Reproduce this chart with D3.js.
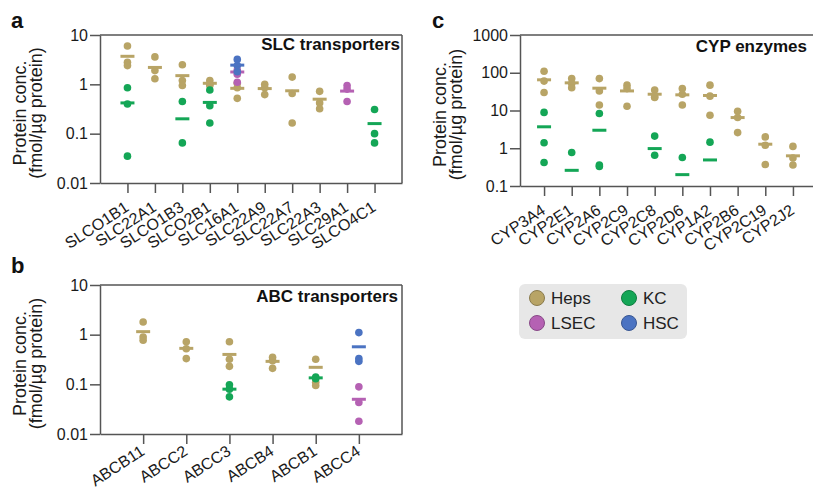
<!DOCTYPE html>
<html><head><meta charset="utf-8">
<script src="https://cdn.jsdelivr.net/npm/d3@7"></script>
<style>
body{margin:0;background:#fff;}
svg{font-family:"Liberation Sans",Arial,Helvetica,sans-serif;}
</style>
</head><body>
<svg id="chart" width="813" height="490"></svg>
<script>
// ---------------- DATA ----------------
const cellTypes = ["Heps", "KC", "LSEC", "HSC"];
const cellColors = ["#b8a466", "#14a656", "#b561b3", "#4b73c2"];

// Panel a: SLC transporters
const slcCategories = ["SLCO1B1","SLC22A1","SLCO1B3","SLCO2B1","SLC16A1","SLC22A9","SLC22A7","SLC22A3","SLC29A1","SLCO4C1"];
const slcHeps     = [[6.0,2.8,2.4],[3.6,1.9,1.3],[2.5,1.2,0.95],[1.2,1.0,0.95],[1.05,0.85,0.52],[1.0,0.85,0.62],[1.4,0.65,0.165],[0.72,0.42,0.32],[],[]];
const slcHepsMean = [3.7,2.2,1.5,1.05,0.83,0.82,0.74,0.5,null,null];
const slcKC       = [[0.85,0.4,0.035],[],[0.45,0.065],[0.77,0.37,0.165],[],[],[],[],[],[0.31,0.1,0.065]];
const slcKCMean   = [0.42,null,0.2,0.43,null,null,null,null,null,0.16];
const slcLSEC     = [[],[],[],[],[1.95,1.6,1.1],[],[],[],[0.95,0.8,0.45],[]];
const slcLSECMean = [null,null,null,null,1.78,null,null,null,0.73,null];
const slcHSC      = [[],[],[],[],[3.2,2.4,1.8],[],[],[],[],[]];
const slcHSCMean  = [null,null,null,null,2.45,null,null,null,null,null];
const slcTicks = [0.01, 0.1, 1, 10];

// Panel b: ABC transporters
const abcCategories = ["ABCB11","ABCC2","ABCC3","ABCB4","ABCB1","ABCC4"];
const abcHeps     = [[1.8,0.9,0.77],[0.72,0.52,0.33],[0.72,0.32,0.23],[0.35,0.3,0.21],[0.32,0.11,0.095],[]];
const abcHepsMean = [1.15,0.53,0.4,0.29,0.22,null];
const abcKC       = [[],[],[0.098,0.08,0.056],[],[0.14,0.13],[]];
const abcKCMean   = [null,null,0.08,null,0.135,null];
const abcLSEC     = [[],[],[],[],[],[0.089,0.043,0.018]];
const abcLSECMean = [null,null,null,null,null,0.05];
const abcHSC      = [[],[],[],[],[],[1.1,0.33,0.29]];
const abcHSCMean  = [null,null,null,null,null,0.57];
const abcTicks = [0.01, 0.1, 1, 10];

// Panel c: CYP enzymes
const cypCategories = ["CYP3A4","CYP2E1","CYP2A6","CYP2C9","CYP2C8","CYP2D6","CYP1A2","CYP2B6","CYP2C19","CYP2J2"];
const cypHeps     = [[110,60,30],[70,52,40],[70,33,14],[47,38,13],[35,23,22],[38,27,14],[47,24,7.5],[9.5,6.5,2.6],[2.0,1.2,0.37],[1.12,0.55,0.36]];
const cypHepsMean = [65,54,39,33,27,26,25,6.5,1.28,0.63];
const cypKC       = [[8.9,1.4,0.42],[0.77],[8.3,0.36,0.33],[],[2.1,0.65],[0.57],[1.45],[],[],[]];
const cypKCMean   = [3.7,0.26,3.0,null,0.98,0.2,0.49,null,null,null];
const cypTicks = [0.1, 1, 10, 100, 1000];

const yLabelLines = ["Protein conc.", "(fmol/\u00b5g protein)"];

// ---------------- DRAWING ----------------
const svg = d3.select("#chart");
const axisColor = "#555";

function drawPanel(o) {
  const g = svg.append("g");
  const x = d3.scalePoint().domain(o.cats).range([o.x0, o.x1]).padding(o.pad);
  const y = d3.scaleLog().domain([o.ticks[0], o.ticks[o.ticks.length - 1]]).range([o.y1, o.y0]);

  // frame top / right
  g.append("line").attr("x1", o.x0).attr("x2", o.x1).attr("y1", o.y0).attr("y2", o.y0)
    .attr("stroke", axisColor).attr("stroke-width", 1.5);
  g.append("line").attr("x1", o.x1).attr("x2", o.x1).attr("y1", o.y0).attr("y2", o.y1)
    .attr("stroke", axisColor).attr("stroke-width", 1.5);

  const ya = g.append("g").attr("transform", `translate(${o.x0},0)`)
    .call(d3.axisLeft(y).tickValues(o.ticks).tickFormat(d => String(d)).tickSize(10).tickSizeOuter(0).tickPadding(2));
  const xa = g.append("g").attr("transform", `translate(0,${o.y1})`)
    .call(d3.axisBottom(x).tickSize(10).tickSizeOuter(0));
  [ya, xa].forEach(a => {
    a.selectAll("path,line").attr("stroke", axisColor).attr("stroke-width", 1.5);
    a.selectAll("text").attr("fill", "#1a1a1a").style("font-size", "16px");
  });
  xa.selectAll("text").attr("y", 0).attr("dy", 0)
    .attr("text-anchor", "end")
    .attr("transform", `translate(2,${o.labOff}) rotate(-33)`);

  // marks
  o.series.forEach(s => {
    const col = cellColors[cellTypes.indexOf(s.type)];
    o.cats.forEach((c, i) => {
      (s.dots[i] || []).forEach(v => {
        g.append("circle").attr("cx", x(c)).attr("cy", y(v)).attr("r", 3.8).attr("fill", col);
      });
      if (s.means[i] != null) {
        g.append("line").attr("x1", x(c) - 7).attr("x2", x(c) + 7)
          .attr("y1", y(s.means[i])).attr("y2", y(s.means[i]))
          .attr("stroke", col).attr("stroke-width", 3);
      }
    });
  });

  // title
  g.append("text").attr("x", o.titleX).attr("y", o.titleY).attr("text-anchor", "end")
    .attr("font-weight", "bold").style("font-size", "17px").attr("fill", "#111").text(o.title);
  // letter
  g.append("text").attr("x", o.letterX).attr("y", o.letterY)
    .attr("font-weight", "bold").style("font-size", "22px").attr("fill", "#111").text(o.letter);
  // y label
  const cy = (o.y0 + o.y1) / 2 + 4;
  yLabelLines.forEach((t, k) => {
    g.append("text").attr("transform", `translate(${o.ylabX + k * 16},${cy}) rotate(-90)`)
      .attr("text-anchor", "middle").style("font-size", "18px").attr("fill", "#1a1a1a").text(t);
  });
}

drawPanel({
  cats: slcCategories, x0: 100, x1: 402, y0: 35, y1: 183, pad: 1, ticks: slcTicks, labOff: 27,
  series: [
    {type: "Heps", dots: slcHeps, means: slcHepsMean},
    {type: "KC", dots: slcKC, means: slcKCMean},
    {type: "LSEC", dots: slcLSEC, means: slcLSECMean},
    {type: "HSC", dots: slcHSC, means: slcHSCMean}
  ],
  title: "SLC transporters", titleX: 400, titleY: 50, letter: "a", letterX: 11, letterY: 28, ylabX: 26
});

drawPanel({
  cats: abcCategories, x0: 100, x1: 402, y0: 285, y1: 434, pad: 1, ticks: abcTicks, labOff: 20,
  series: [
    {type: "Heps", dots: abcHeps, means: abcHepsMean},
    {type: "KC", dots: abcKC, means: abcKCMean},
    {type: "LSEC", dots: abcLSEC, means: abcLSECMean},
    {type: "HSC", dots: abcHSC, means: abcHSCMean}
  ],
  title: "ABC transporters", titleX: 398, titleY: 302, letter: "b", letterX: 11, letterY: 273, ylabX: 26
});

drawPanel({
  cats: cypCategories, x0: 520, x1: 817, y0: 35, y1: 186, pad: 0.87, ticks: cypTicks, labOff: 27,
  series: [
    {type: "Heps", dots: cypHeps, means: cypHepsMean},
    {type: "KC", dots: cypKC, means: cypKCMean}
  ],
  title: "CYP enzymes", titleX: 807, titleY: 52, letter: "c", letterX: 432, letterY: 28, ylabX: 446
});

// legend
const lg = svg.append("g");
lg.append("rect").attr("x", 519).attr("y", 284).attr("width", 168).attr("height", 55)
  .attr("rx", 6).attr("fill", "#e7e7e7");
const legendPos = [[537, 298], [629, 298], [537, 323], [629, 323]];
cellTypes.forEach((t, i) => {
  const [cx, cy] = legendPos[i];
  lg.append("circle").attr("cx", cx).attr("cy", cy).attr("r", 7.5)
    .attr("fill", cellColors[i]).attr("stroke", d3.color(cellColors[i]).darker(0.8)).attr("stroke-width", 1);
  lg.append("text").attr("x", cx + 14).attr("y", cy).attr("dy", "0.36em")
    .style("font-size", "17px").attr("fill", "#222").text(t);
});
</script>
</body></html>
